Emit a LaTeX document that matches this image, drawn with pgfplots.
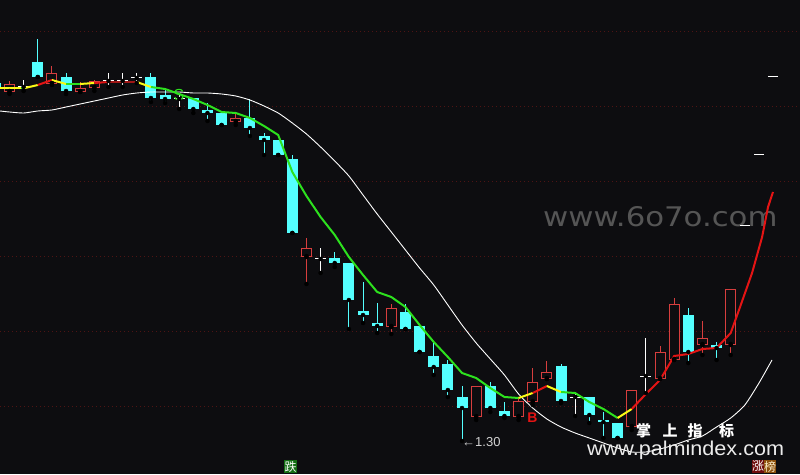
\documentclass[border=0pt]{standalone}
\usepackage{fontspec}
\setmainfont{Liberation Sans}
\newfontfamily\cjk{Noto Sans CJK SC}
\newfontfamily\dv{DejaVu Sans}
\usepackage{pgfplots}
\pgfplotsset{compat=1.18}
\usepackage{pgfplotstable}

\definecolor{bg}{RGB}{13,13,16}
\definecolor{upc}{RGB}{215,62,62}
\definecolor{dnc}{RGB}{84,255,255}
\definecolor{grd}{RGB}{78,20,20}
\definecolor{mar}{RGB}{228,20,20}
\definecolor{mad}{RGB}{160,22,22}
\definecolor{mag}{RGB}{45,225,30}
\definecolor{may}{RGB}{250,250,20}
\definecolor{wm}{RGB}{85,85,85}
\definecolor{lbl}{RGB}{210,210,210}
\definecolor{pal}{RGB}{235,235,235}
\definecolor{dieg}{RGB}{20,110,20}
\definecolor{zhr}{RGB}{110,12,12}
\definecolor{bangb}{RGB}{140,80,12}
\definecolor{bangt}{RGB}{250,235,200}

% falling days (cyan, filled)
\pgfplotstableread{
i o h l c
-1 4.88 4.88 4.83 4.83
2 5.09 5.32 4.94 4.94
4 4.94 4.98 4.77 4.80
10 4.94 4.98 4.69 4.73
11 4.76 4.83 4.68 4.72
13 4.73 4.73 4.58 4.62
14 4.61 4.68 4.50 4.58
15 4.58 4.58 4.46 4.46
17 4.53 4.72 4.35 4.43
18 4.35 4.38 4.16 4.31
19 4.31 4.31 4.16 4.16
20 4.12 4.16 3.38 3.38
23 3.13 3.19 3.04 3.08
24 3.08 3.08 2.42 2.71
25 2.60 2.89 2.48 2.56
26 2.48 2.68 2.38 2.45
28 2.59 2.67 2.42 2.42
29 2.45 2.45 2.19 2.19
30 2.15 2.30 1.96 2.04
31 2.07 2.11 1.74 1.81
32 1.74 1.85 1.30 1.63
34 1.85 1.89 1.59 1.63
35 1.60 1.69 1.53 1.55
39 2.05 2.07 1.68 1.70
41 1.74 1.74 1.48 1.56
42 1.51 1.59 1.33 1.49
43 1.48 1.48 1.33 1.33
48 2.56 2.63 2.08 2.19
50 2.26 2.29 2.11 2.23
}\down

% rising days (red, hollow)
\pgfplotstableread{
i o h l c
0 4.79 4.90 4.77 4.87
3 4.87 5.05 4.86 4.98
5 4.79 4.89 4.79 4.83
6 4.83 4.91 4.80 4.90
16 4.49 4.58 4.46 4.53
21 3.14 3.33 2.87 3.23
27 2.44 2.67 2.37 2.63
33 1.54 1.85 1.51 1.85
36 1.54 1.74 1.51 1.70
37 1.69 2.03 1.66 1.89
38 1.92 2.10 1.92 1.99
44 1.44 1.81 1.41 1.81
46 1.92 2.25 1.92 2.19
47 2.11 2.73 2.11 2.67
49 2.26 2.50 2.16 2.33
51 2.26 2.82 2.16 2.82
}\up

% doji (white crosses)
\pgfplotstableread{
i o h l c
1 4.84 4.91 4.80 4.84
7 4.90 4.98 4.84 4.90
8 4.90 4.98 4.84 4.90
9 4.93 4.98 4.88 4.93
12 4.72 4.78 4.62 4.72
22 3.12 3.23 2.98 3.12
40 1.74 1.79 1.55 1.74
45 1.95 2.33 1.78 1.95
}\doji

% short moving average
\pgfplotstableread{
i p
-0.672 4.83
0 4.83
0.8 4.83
1.1 4.83
2 4.86
3 4.91
4 4.87
5 4.87
6 4.88
7 4.89
8 4.89
9 4.89
10 4.84
11 4.82
12 4.77
13 4.72
14 4.66
15 4.59
16 4.58
17 4.53
18 4.45
19 4.36
20 3.99
21 3.75
22 3.54
23 3.36
24 3.14
25 2.96
26 2.79
27 2.74
28 2.64
29 2.46
30 2.29
31 2.14
32 1.98
33 1.93
34 1.83
35 1.74
36 1.73
37 1.78
38 1.85
39 1.79
40 1.78
41 1.69
42 1.62
43 1.53
44 1.62
45 1.77
46 1.91
47 2.15
48 2.17
49 2.22
50 2.23
51 2.38
51.66 2.64
52.51 2.98
53.22 3.34
53.64 3.64
53.99 3.79
}\ma

% long moving average (white)
\pgfplotstableread{
i p
-0.672 4.60
0 4.59
1 4.58
2 4.60
3 4.61
4 4.64
5 4.67
6 4.70
7 4.73
8 4.76
9 4.78
10 4.79
11 4.79
12 4.79
13 4.78
14 4.78
15 4.77
16 4.75
17 4.71
18 4.65
19 4.58
20 4.48
21 4.37
22 4.24
23 4.10
24 3.95
25 3.76
26 3.57
27 3.39
28 3.21
29 3.03
30 2.86
31 2.66
32 2.46
33 2.28
34 2.12
35 1.96
36 1.77
37 1.63
38 1.52
39 1.44
40 1.38
41 1.33
42 1.28
43 1.23
44 1.19
45 1.19
46 1.22
47 1.26
48 1.31
49 1.35
50 1.44
51 1.53
52 1.66
53 1.88
53.92 2.11
}\lma

\begin{document}
\begin{tikzpicture}
\fill[bg] (0,0) rectangle (800pt,474pt);
% watermark under the plot
\node[anchor=base west, inner sep=0pt, text=wm, xscale=1.14, font=\dv\fontsize{27}{27}\selectfont] at (543pt,247pt) {www.6o7o.com};

\begin{axis}[
  at={(0,0)}, anchor=south west,
  scale only axis, width=800pt, height=474pt,
  xmin=-0.672, xmax=55.90, ymin=0.97, ymax=5.71,
  axis line style={draw=none}, tick style={draw=none},
  xtick=\empty, ytick={1.65,2.40,3.15,3.90,4.65,5.40}, yticklabels={},
  ymajorgrids, grid style={grd, line width=0.8pt, dash pattern=on 0.8pt off 3.2pt},
]
% wicks
\addplot[only marks, mark=none, error bars/.cd, y dir=plus, y explicit, error mark=none,
  error bar style={dnc, line width=1pt}]
  table[x=i, y=l, y error plus expr=\thisrow{h}-\thisrow{l}] {\down};
\addplot[only marks, mark=none, error bars/.cd, y dir=plus, y explicit, error mark=none,
  error bar style={upc, line width=1pt}]
  table[x=i, y=l, y error plus expr=\thisrow{h}-\thisrow{l}] {\up};
\addplot[only marks, mark=none, error bars/.cd, y dir=plus, y explicit, error mark=none,
  error bar style={white, line width=1pt}]
  table[x=i, y=l, y error plus expr=\thisrow{h}-\thisrow{l}] {\doji};
% bodies
\addplot[only marks, mark=none, error bars/.cd, y dir=plus, y explicit, error mark=none,
  error bar style={dnc, line width=11pt}]
  table[x=i, y=c, y error plus expr=\thisrow{o}-\thisrow{c}] {\down};
\addplot[only marks, mark=none, error bars/.cd, y dir=plus, y explicit, error mark=none,
  error bar style={upc, line width=11pt}]
  table[x=i, y=o, y error plus expr=\thisrow{c}-\thisrow{o}] {\up};
\addplot[only marks, mark=none, error bars/.cd, y dir=plus, y explicit, error mark=none,
  error bar style={bg, line width=9pt}]
  table[x=i, y expr=\thisrow{o}+0.01, y error plus expr=\thisrow{c}-\thisrow{o}-0.02] {\up};
\addplot[only marks, mark=none, error bars/.cd, x dir=both, x fixed=0.389, error mark=none,
  error bar style={white, line width=1pt}]
  table[x=i, y=o] {\doji};

% long average
\addplot[white, line width=0.9pt, smooth, tension=0.4] table[x=i, y=p] {\lma};

% short average, coloured by trend
\addplot[may, line width=2pt, restrict x to domain=-1:0.8] table[x=i, y=p] {\ma};
\addplot[mag, line width=2pt, restrict x to domain=0.8:1.1] table[x=i, y=p] {\ma};
\addplot[may, line width=2pt, restrict x to domain=1.1:2] table[x=i, y=p] {\ma};
\addplot[mar, line width=2pt, restrict x to domain=2:3] table[x=i, y=p] {\ma};
\addplot[may, line width=2pt, restrict x to domain=3:4] table[x=i, y=p] {\ma};
\addplot[mag, line width=2pt, restrict x to domain=4:5] table[x=i, y=p] {\ma};
\addplot[may, line width=2pt, restrict x to domain=5:6] table[x=i, y=p] {\ma};
\addplot[mar, line width=2pt, restrict x to domain=6:7] table[x=i, y=p] {\ma};
\addplot[mad, line width=2pt, restrict x to domain=7:9] table[x=i, y=p] {\ma};
\addplot[may, line width=2pt, restrict x to domain=9:10] table[x=i, y=p] {\ma};
\addplot[mag, line width=2pt, restrict x to domain=10:36] table[x=i, y=p] {\ma};
\addplot[may, line width=2pt, restrict x to domain=36:37] table[x=i, y=p] {\ma};
\addplot[mar, line width=2pt, restrict x to domain=37:38] table[x=i, y=p] {\ma};
\addplot[may, line width=2pt, restrict x to domain=38:39] table[x=i, y=p] {\ma};
\addplot[mag, line width=2pt, restrict x to domain=39:43] table[x=i, y=p] {\ma};
\addplot[may, line width=2pt, restrict x to domain=43:44] table[x=i, y=p] {\ma};
\addplot[mar, line width=2pt, restrict x to domain=44:55] table[x=i, y=p] {\ma};

% projection marks on the right
\addplot[only marks, mark=-, mark size=5pt, white, mark options={line width=1pt}]
  coordinates {(52,3.45) (53,4.16) (54,4.94)};

\node[text=mar, font=\bfseries\fontsize{14}{14}\selectfont] at (axis cs:36.98,1.53) {B};
\node[text=mag, font=\fontsize{16}{16}\selectfont] at (axis cs:11.99,4.76) {S};
\node[anchor=west, inner sep=0pt, text=lbl,
  font=\fontsize{13}{13}\selectfont] at (axis cs:32,1.29) {←1.30};
\end{axis}

% logo texts
\foreach \x/\t in {643.5/掌, 670/上, 695/指, 726.5/标}
  \node[text=white, inner sep=0pt, font=\cjk\bfseries\fontsize{15}{15}\selectfont] at (\x pt,43pt) {\t};
\node[anchor=base west, inner sep=0pt, text=pal, xscale=1.08,
  font=\fontsize{20}{20}\selectfont] at (587pt,19pt) {www.palmindex.com};

% bottom markers
\fill[dieg] (284pt,1pt) rectangle (297pt,14pt);
\node[text=white, inner sep=0pt, font=\cjk\fontsize{12}{12}\selectfont] at (290.5pt,7.5pt) {跌};
\fill[zhr] (752pt,1pt) rectangle (764pt,14pt);
\fill[bangb] (764pt,1pt) rectangle (776pt,14pt);
\node[text=white, inner sep=0pt, font=\cjk\fontsize{12}{12}\selectfont] at (758pt,7.5pt) {涨};
\node[text=bangt, inner sep=0pt, font=\cjk\fontsize{12}{12}\selectfont] at (770pt,7.5pt) {榜};

\pgfresetboundingbox
\path (0,0) rectangle (800pt,474pt);
\end{tikzpicture}
\end{document}
